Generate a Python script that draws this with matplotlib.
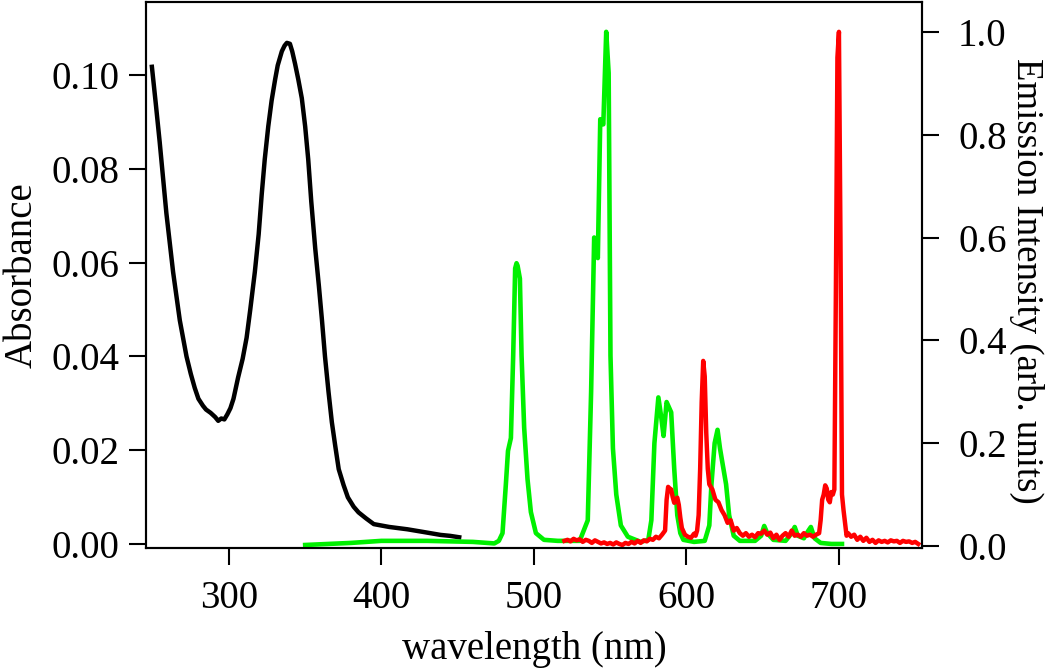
import matplotlib
matplotlib.use("Agg")
import matplotlib.pyplot as plt

plt.rcParams["font.family"] = ["Liberation Serif", "DejaVu Serif"]
plt.rcParams["font.size"] = 28

# absorbance (left axis)
abs_wl = [249.5, 252, 254.6, 259, 263.4, 267.8, 272.2, 275, 277.6, 280, 283, 285, 288,
          291, 293, 295, 297, 299, 301, 303, 306, 309, 311.6, 314, 317, 319.5, 321.5,
          323.5, 325.8, 328, 330.3, 332, 334.7, 336.5, 338, 340, 341.5, 343.4, 345.5,
          347.8, 350, 352, 354, 356.6, 359, 361, 363, 365.3, 367.5, 369.7, 372, 375.2,
          378, 381.8, 385, 390, 395, 405, 417, 428, 438.8, 445, 451]
abs_val = [0.1017, 0.094, 0.0857, 0.0705, 0.058, 0.0477, 0.040, 0.0363, 0.0333, 0.031,
           0.0295, 0.0287, 0.028, 0.0271, 0.0263, 0.0268, 0.0266, 0.0277, 0.029, 0.031,
           0.0355, 0.0395, 0.044, 0.050, 0.058, 0.066, 0.0745, 0.082, 0.089, 0.0945,
           0.099, 0.102, 0.105, 0.1062, 0.1068, 0.1066, 0.105, 0.1023, 0.099, 0.095,
           0.089, 0.082, 0.073, 0.063, 0.055, 0.0478, 0.040, 0.0325, 0.026, 0.021,
           0.016, 0.0126, 0.010, 0.008, 0.0068, 0.0055, 0.0043, 0.0037, 0.0032, 0.0026,
           0.002, 0.0018, 0.0015]

# green emission (right axis)
green_wl = [350, 380, 400, 430, 460, 474, 477, 479.4, 481.6, 483, 484.9, 486.4, 487.7,
            488.6, 489.3, 490.8, 491.9, 493.6, 495.8, 498, 501.3, 506.6, 515.6, 530,
            535.3, 537.5, 539.5, 540.5, 541.9, 543.5, 545.5, 547.4, 549, 550.2, 551.8,
            554, 557, 561.6, 570, 575, 577, 579, 581.6, 583.5, 585, 587, 588.5, 590,
            592, 594, 596, 598, 605, 612, 615, 616.4, 618.5, 620.4, 622, 623.7, 626,
            628, 631, 635, 645, 649, 651, 653, 657, 665, 669, 671, 673, 677, 680,
            681.6, 684, 688, 695, 702]
green_val = [0.002, 0.006, 0.01, 0.01, 0.008, 0.005, 0.01, 0.025, 0.12, 0.185, 0.21,
             0.37, 0.54, 0.55, 0.545, 0.52, 0.37, 0.23, 0.13, 0.066, 0.025, 0.012,
             0.01, 0.01, 0.05, 0.3, 0.6, 0.59, 0.56, 0.83, 0.82, 1.0, 0.92, 0.37,
             0.19, 0.1, 0.04, 0.018, 0.008, 0.012, 0.05, 0.2, 0.289, 0.25, 0.214,
             0.28, 0.27, 0.26, 0.15, 0.06, 0.025, 0.012, 0.008, 0.01, 0.04, 0.12,
             0.2, 0.226, 0.19, 0.16, 0.12, 0.06, 0.02, 0.01, 0.01, 0.02, 0.039, 0.025,
             0.012, 0.01, 0.025, 0.037, 0.02, 0.015, 0.03, 0.037, 0.015, 0.006,
             0.004, 0.004]

# red emission (right axis)
red_wl = [520, 522, 524, 526, 528, 530, 532, 534, 536, 538, 540, 542, 544, 546, 548,
          550, 552, 554, 556, 558, 560, 562, 564, 566, 568, 570, 572, 574, 576, 578,
          580, 582, 584, 586, 587, 588, 589, 590, 591, 592, 593, 594, 595, 596, 597,
          599, 601, 603, 605, 606, 607, 608, 609, 610, 611, 612, 613, 614, 615, 617,
          619, 621, 623, 625, 627, 629, 631, 633, 635, 637, 639, 641, 643, 645, 647,
          649, 651, 653, 655, 657, 659, 661, 663, 665, 667, 669, 671, 673, 675, 677,
          679, 681, 683, 685, 687, 688, 689, 690, 691, 692, 693, 694, 695, 696, 697,
          698, 699, 700, 701, 702, 703, 704, 705, 706, 708, 710, 712, 714, 716, 718,
          720, 722, 724, 726, 728, 730, 732, 734, 736, 738, 740, 742, 744, 746, 748,
          750, 752]
red_val = [0.010, 0.012, 0.009, 0.014, 0.011, 0.013, 0.008, 0.012, 0.010, 0.006,
           0.011, 0.008, 0.005, 0.007, 0.004, 0.006, 0.003, 0.007, 0.004, 0.002,
           0.006, 0.004, 0.008, 0.005, 0.010, 0.006, 0.011, 0.009, 0.014, 0.012,
           0.018, 0.015, 0.022, 0.030, 0.090, 0.115, 0.112, 0.110, 0.095, 0.084,
           0.090, 0.094, 0.080, 0.055, 0.035, 0.022, 0.018, 0.016, 0.024, 0.020,
           0.030, 0.06, 0.15, 0.28, 0.36, 0.33, 0.22, 0.15, 0.12, 0.11, 0.09, 0.085,
           0.07, 0.06, 0.045, 0.05, 0.03, 0.035, 0.025, 0.02, 0.025, 0.018, 0.022,
           0.017, 0.025, 0.024, 0.030, 0.022, 0.026, 0.015, 0.022, 0.012, 0.02,
           0.025, 0.018, 0.03, 0.02, 0.022, 0.018, 0.025, 0.02, 0.022, 0.018, 0.022,
           0.025, 0.05, 0.09, 0.1, 0.118, 0.112, 0.09, 0.085, 0.105, 0.1, 0.11, 0.5,
           0.95, 1.0, 0.6, 0.1, 0.07, 0.045, 0.02, 0.025, 0.018, 0.022, 0.012, 0.018,
           0.01, 0.016, 0.008, 0.012, 0.006, 0.011, 0.008, 0.010, 0.007, 0.011,
           0.009, 0.010, 0.006, 0.010, 0.008, 0.009, 0.006, 0.008, 0.004]

fig = plt.figure(figsize=(10.5, 6.7), dpi=100)
ax = fig.add_axes([0.139, 0.182, 0.739, 0.815])
ax2 = ax.twinx()

ax.plot(abs_wl, abs_val, color="black", lw=3.2)
ax2.plot(green_wl, green_val, color="#00f000", lw=3.3)
ax2.plot(red_wl, red_val, color="#ff0000", lw=3.2)

ax.set_xlim(245.6, 754.4)
ax.set_ylim(-0.0008, 0.1155)
ax2.set_ylim(-0.004, 1.058)

ax.set_xticks([300, 400, 500, 600, 700])
ax.set_yticks([0.00, 0.02, 0.04, 0.06, 0.08, 0.10])
ax.set_yticklabels(["0.00", "0.02", "0.04", "0.06", "0.08", "0.10"])
ax2.set_yticks([0.0, 0.2, 0.4, 0.6, 0.8, 1.0])
ax2.set_yticklabels(["0.0", "0.2", "0.4", "0.6", "0.8", "1.0"])

for a in (ax, ax2):
    a.tick_params(direction="out", length=12, width=1.5, labelsize=28, pad=7)
    for s in a.spines.values():
        s.set_linewidth(1.5)
ax.tick_params(axis="x", pad=11)
ax2.tick_params(axis="y", pad=14)

ax.set_xlabel("wavelength (nm)", fontsize=28, labelpad=10)
ax.set_ylabel("Absorbance", fontsize=28, labelpad=8)
ax2.set_ylabel("Emission Intensity (arb. units)", fontsize=26.5, rotation=270,
               va="bottom", ha="center")
ax2.yaxis.set_label_coords(1.1121, 0.49)

fig.savefig("out.png", dpi=100)
